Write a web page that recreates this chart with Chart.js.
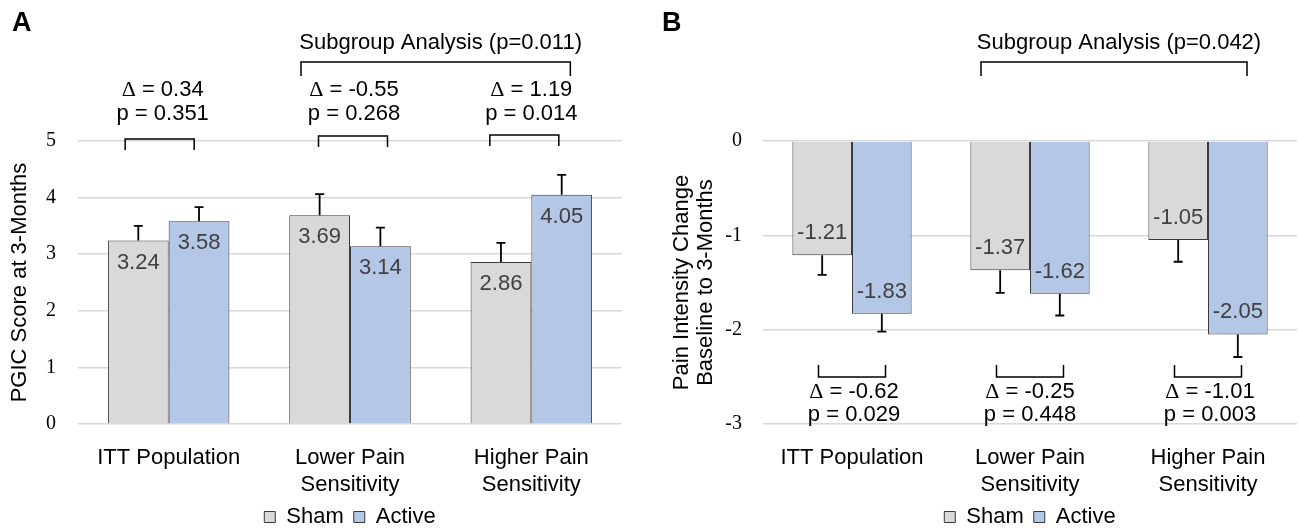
<!DOCTYPE html>
<html>
<head>
<meta charset="utf-8">
<script src="https://cdn.jsdelivr.net/npm/chart.js@4.4.1/dist/chart.umd.min.js"></script>
<style>
  html, body { margin: 0; padding: 0; background: #fff; }
  #wrapA { position: absolute; left: 0; top: 0; width: 650px; height: 529px; }
  #wrapB { position: absolute; left: 650px; top: 0; width: 649px; height: 529px; }
</style>
</head>
<body>
<div id="wrapA"><canvas id="chartA"></canvas></div>
<div id="wrapB"><canvas id="chartB"></canvas></div>
<script>
const groups = ['ITT Population', ['Lower Pain', 'Sensitivity'], ['Higher Pain', 'Sensitivity']];
const seriesNames = ['Sham', 'Active'];

// panel A - PGIC score at 3 months
const pgicSham = [3.24, 3.69, 2.86];
const pgicActive = [3.58, 3.14, 4.05];
const pgicShamErr = [0.26, 0.37, 0.34];
const pgicActiveErr = [0.25, 0.33, 0.35];
const pgicStats = [['\u0394 = 0.34', 'p = 0.351'], ['\u0394 = -0.55', 'p = 0.268'], ['\u0394 = 1.19', 'p = 0.014']];
const pgicSubgroup = 'Subgroup Analysis (p=0.011)';

// panel B - pain intensity change
const painSham = [-1.21, -1.37, -1.05];
const painActive = [-1.83, -1.62, -2.05];
const painShamErr = [0.21, 0.24, 0.23];
const painActiveErr = [0.19, 0.23, 0.24];
const painStats = [['\u0394 = -0.62', 'p = 0.029'], ['\u0394 = -0.25', 'p = 0.448'], ['\u0394 = -1.01', 'p = 0.003']];
const painSubgroup = 'Subgroup Analysis (p=0.042)';

const SANS = "'Liberation Sans', Arial, sans-serif";
const SERIF = "'Liberation Serif', 'Times New Roman', serif";
Chart.defaults.font.family = SANS;
Chart.defaults.color = '#000';
Chart.defaults.animation = false;

const shamFill = '#d9d9d9', activeFill = '#b4c7e7', edge = '#3a3a3a';

// error bars + value labels drawn inside the bar end
const barExtras = {
  id: 'barExtras',
  afterDatasetsDraw(chart, args, opts) {
    const ctx = chart.ctx, y = chart.scales.y;
    chart.data.datasets.forEach((ds, i) => {
      const meta = chart.getDatasetMeta(i);
      meta.data.forEach((el, j) => {
        const v = ds.data[j], e = opts.errors[i][j], sign = v >= 0 ? 1 : -1;
        const endY = y.getPixelForValue(v + sign * e);
        ctx.save();
        ctx.strokeStyle = '#000';
        ctx.lineWidth = 1.8;
        ctx.beginPath();
        ctx.moveTo(el.x, el.y);
        ctx.lineTo(el.x, endY);
        ctx.moveTo(el.x - 4.5, endY);
        ctx.lineTo(el.x + 4.5, endY);
        ctx.stroke();
        ctx.fillStyle = '#404040';
        ctx.font = '22px ' + SANS;
        ctx.textAlign = 'center';
        ctx.textBaseline = 'middle';
        ctx.fillText(v.toFixed(2), el.x, el.y + sign * 22);
        ctx.restore();
      });
    });
  }
};

// delta line: serif triangle followed by sans text, centred as a whole
function drawDelta(ctx, text, cx, cy) {
  const head = text.charAt(0), rest = text.slice(1);
  ctx.font = '22px ' + SERIF;
  const w1 = ctx.measureText(head).width;
  ctx.font = '22px ' + SANS;
  const w2 = ctx.measureText(rest).width;
  const left = cx - (w1 + w2) / 2;
  ctx.textAlign = 'left';
  ctx.font = '22px ' + SERIF;
  ctx.fillText(head, left, cy);
  ctx.font = '22px ' + SANS;
  ctx.fillText(rest, left + w1, cy);
  ctx.textAlign = 'center';
}

// comparison brackets, stats text, panel letter
const annotations = {
  id: 'annotations',
  afterDraw(chart, args, opts) {
    const ctx = chart.ctx, x = chart.scales.x;
    ctx.save();
    ctx.strokeStyle = '#000';
    ctx.lineWidth = 1.5;
    ctx.fillStyle = '#000';
    ctx.textAlign = 'center';
    ctx.textBaseline = 'middle';
    ctx.font = '22px ' + SANS;
    opts.stats.forEach((lines, i) => {
      const cx = x.getPixelForValue(i) + opts.shift[i];
      const half = opts.half;
      const by = opts.bracketY[i], dir = opts.legDir;
      ctx.beginPath();
      ctx.moveTo(cx - half, by + dir * opts.leg);
      ctx.lineTo(cx - half, by);
      ctx.lineTo(cx + half, by);
      ctx.lineTo(cx + half, by + dir * opts.leg);
      ctx.stroke();
      const tx = x.getPixelForValue(i) + opts.textShift[i];
      drawDelta(ctx, lines[0], tx, opts.textY[0]);
      ctx.font = '22px ' + SANS;
      ctx.fillText(lines[1], tx, opts.textY[1]);
    });
    // subgroup bracket
    const x1 = x.getPixelForValue(1) - 49, x2 = x.getPixelForValue(2) + 39;
    ctx.beginPath();
    ctx.moveTo(x1, 76);
    ctx.lineTo(x1, 62);
    ctx.lineTo(x2, 62);
    ctx.lineTo(x2, 76);
    ctx.stroke();
    ctx.font = '22px ' + SANS;
    ctx.fillText(opts.subgroup, (x.getPixelForValue(1) + x.getPixelForValue(2)) / 2, 43);
    ctx.font = 'bold 27px ' + SANS;
    ctx.textAlign = 'left';
    ctx.fillText(opts.letter, 12, 24);
    ctx.restore();
  }
};

function makeChart(id, sham, active, errs, yOpts, ann, yWidth, padRight) {
  return new Chart(document.getElementById(id), {
    type: 'bar',
    data: {
      labels: groups,
      datasets: [
        { label: seriesNames[0], data: sham, backgroundColor: shamFill, borderColor: edge, borderWidth: 1 },
        { label: seriesNames[1], data: active, backgroundColor: activeFill, borderColor: edge, borderWidth: 1 }
      ]
    },
    options: {
      responsive: true,
      maintainAspectRatio: false,
      categoryPercentage: 0.67,
      barPercentage: 1.0,
      layout: { padding: { top: 141, right: padRight, left: 0, bottom: -9 } },
      plugins: {
        legend: {
          position: 'bottom',
          fullSize: false,
          labels: { boxWidth: 11, boxHeight: 11, padding: 10, color: '#000', font: { size: 22 } }
        },
        tooltip: { enabled: false },
        barExtras: { errors: errs },
        annotations: ann
      },
      scales: {
        x: {
          grid: { display: false },
          border: { display: false },
          ticks: { color: '#000', font: { size: 22, lineHeight: 1.25 }, padding: 12, maxRotation: 0 },
          afterFit(s) { s.height = 72; }
        },
        y: Object.assign({
          grid: { color: '#d9d9d9', lineWidth: 1.5, drawTicks: false },
          border: { display: false },
          afterFit(s) { s.width = yWidth; }
        }, yOpts)
      }
    },
    plugins: [barExtras, annotations]
  });
}

makeChart('chartA', pgicSham, pgicActive, [pgicShamErr, pgicActiveErr], {
  min: 0, max: 5,
  ticks: { stepSize: 1, color: '#000', padding: 22, font: { family: SERIF, size: 20 } },
  title: { display: true, text: 'PGIC Score at 3-Months', color: '#000', font: { size: 22, lineHeight: 1.2 }, padding: { top: 7, bottom: 0 } }
}, {
  stats: pgicStats, subgroup: pgicSubgroup, letter: 'A',
  shift: [-9, 3, -7], textShift: [-6, 4, 0], half: 34.5,
  bracketY: [139, 136, 135], legDir: 1, leg: 11, textY: [90, 114]
}, 78, 28);

makeChart('chartB', painSham, painActive, [painShamErr, painActiveErr], {
  min: -3, max: 0,
  ticks: { stepSize: 1, color: '#000', padding: 21, font: { family: SERIF, size: 20 } },
  title: { display: true, text: ['Pain Intensity Change', 'Baseline to 3-Months'], color: '#000', font: { size: 22, lineHeight: 1.1 }, padding: { top: 20, bottom: 0 } }
}, {
  stats: painStats, subgroup: painSubgroup, letter: 'B',
  shift: [0, 0, 0], textShift: [2, 0, 2], half: 33.5,
  bracketY: [377, 377, 377], legDir: -1, leg: 12, textY: [392, 415]
}, 113, 2);
</script>
</body>
</html>
